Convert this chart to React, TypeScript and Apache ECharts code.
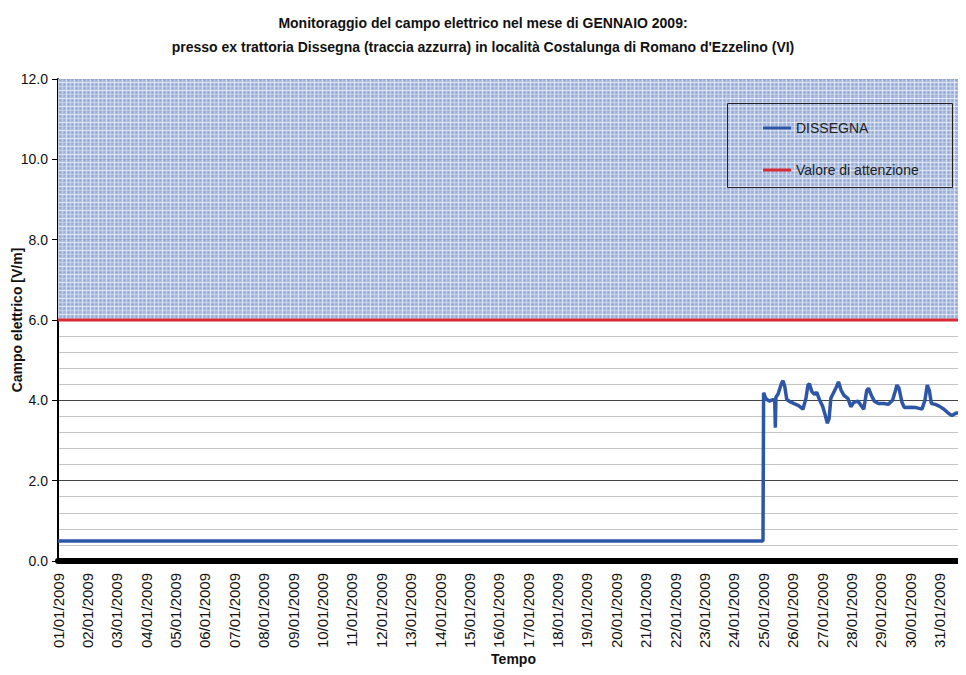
import React, { useEffect, useRef } from "react";
import * as echarts from "echarts";

const TITLE_LINES = [
  "Monitoraggio del campo elettrico nel mese di GENNAIO 2009:",
  "presso ex trattoria Dissegna (traccia azzurra) in località Costalunga di Romano d'Ezzelino (VI)",
];
const Y_NAME = "Campo elettrico [V/m]";
const X_NAME = "Tempo";
const SERIES_NAMES = ["DISSEGNA", "Valore di attenzione"];

const DATE_LABELS = [
  "01/01/2009", "02/01/2009", "03/01/2009", "04/01/2009", "05/01/2009", "06/01/2009",
  "07/01/2009", "08/01/2009", "09/01/2009", "10/01/2009", "11/01/2009", "12/01/2009",
  "13/01/2009", "14/01/2009", "15/01/2009", "16/01/2009", "17/01/2009", "18/01/2009",
  "19/01/2009", "20/01/2009", "21/01/2009", "22/01/2009", "23/01/2009", "24/01/2009",
  "25/01/2009", "26/01/2009", "27/01/2009", "28/01/2009", "29/01/2009", "30/01/2009",
  "31/01/2009",
];

const START = "2009-01-01T00:00";
const END = "2009-02-01T00:00";

const DISSEGNA_TIMES = [
  "2009-01-01T00:00", "2009-01-24T23:45", "2009-01-25T00:15", "2009-01-25T02:00",
  "2009-01-25T04:50", "2009-01-25T08:00", "2009-01-25T09:20", "2009-01-25T09:50",
  "2009-01-25T10:20", "2009-01-25T12:00", "2009-01-25T14:50", "2009-01-25T16:05",
  "2009-01-25T17:30", "2009-01-25T19:10", "2009-01-25T21:35", "2009-01-26T01:10",
  "2009-01-26T04:50", "2009-01-26T08:25", "2009-01-26T10:50", "2009-01-26T12:30",
  "2009-01-26T13:40", "2009-01-26T15:35", "2009-01-26T17:45", "2009-01-26T19:40",
  "2009-01-26T22:05", "2009-01-27T00:30", "2009-01-27T02:25", "2009-01-27T04:20",
  "2009-01-27T05:45", "2009-01-27T07:10", "2009-01-27T09:35", "2009-01-27T12:00",
  "2009-01-27T13:25", "2009-01-27T15:35", "2009-01-27T18:00", "2009-01-27T21:05",
  "2009-01-27T23:30", "2009-01-28T01:55", "2009-01-28T05:15", "2009-01-28T07:40",
  "2009-01-28T10:05", "2009-01-28T12:30", "2009-01-28T13:55", "2009-01-28T16:20",
  "2009-01-28T18:40", "2009-01-28T22:05", "2009-01-29T02:25", "2009-01-29T06:00",
  "2009-01-29T09:35", "2009-01-29T12:00", "2009-01-29T13:10", "2009-01-29T14:50",
  "2009-01-29T17:15", "2009-01-29T19:10", "2009-01-30T00:00", "2009-01-30T04:50",
  "2009-01-30T09:35", "2009-01-30T12:00", "2009-01-30T13:55", "2009-01-30T15:35",
  "2009-01-30T17:15", "2009-01-30T20:25", "2009-01-31T00:00", "2009-01-31T03:35",
  "2009-01-31T07:10", "2009-01-31T10:05", "2009-01-31T13:10", "2009-01-31T16:50",
  "2009-01-31T20:25", "2009-01-31T23:30",
];
const DISSEGNA_VALUES = [
  0.5, 0.5, 4.19, 4.05,
  3.98, 4.02, 4.0, 3.32,
  4.08, 4.15, 4.42, 4.49,
  4.35, 4.02, 3.97, 3.92,
  3.87, 3.78, 4.05, 4.38,
  4.41, 4.22, 4.15, 4.2,
  4.0, 3.85, 3.65, 3.43,
  3.55, 4.05, 4.2, 4.35,
  4.46, 4.25, 4.12, 4.05,
  3.84, 3.95, 3.98, 3.88,
  3.78, 4.25, 4.3, 4.12,
  3.98, 3.92, 3.92, 3.9,
  4.0, 4.25, 4.38, 4.3,
  3.95, 3.82, 3.83, 3.82,
  3.78, 4.0, 4.38, 4.25,
  3.92, 3.9, 3.85, 3.78,
  3.68, 3.62, 3.68, 3.7,
  3.7, 3.72,
];
const ATTENTION_VALUE = 6.0;
const Y_MAX = 12;

const FONT = "'Liberation Sans', Arial, Helvetica, sans-serif";

function toDays(s: string): number {
  return (Date.parse(s) - Date.parse(START)) / 86400000;
}

function makePattern(): string {
  const c = document.createElement("canvas");
  c.width = 8;
  c.height = 8;
  const ctx = c.getContext("2d");
  if (!ctx) return "";
  ctx.fillStyle = "#9bb1de";
  ctx.fillRect(0, 0, 8, 8);
  ctx.fillStyle = "rgba(255,255,255,0.6)";
  ctx.fillRect(2, 0, 1, 8);
  ctx.fillRect(0, 2, 8, 1);
  ctx.fillStyle = "rgba(255,255,255,0.3)";
  ctx.fillRect(6, 0, 1, 8);
  ctx.fillRect(0, 6, 8, 1);
  ctx.fillStyle = "#7d98d2";
  ctx.fillRect(4, 4, 1, 1);
  ctx.fillRect(0, 4, 1, 1);
  ctx.fillRect(4, 0, 1, 1);
  return c.toDataURL();
}

export default function App() {
  const ref = useRef<HTMLDivElement>(null);
  useEffect(() => {
    if (!ref.current) return;
    const chart = echarts.init(ref.current, null, { renderer: "svg" });
    const totalDays = toDays(END);
    const pattern = makePattern();
    const hatch: any = pattern
      ? { image: pattern, repeat: "repeat" }
      : "#a9bde2";
    const dissegnaData = DISSEGNA_TIMES.map((t, i) => [toDays(t), DISSEGNA_VALUES[i]]);
    const attentionData = [
      [0, ATTENTION_VALUE],
      [totalDays, ATTENTION_VALUE],
    ];
    chart.setOption({
      animation: false,
      backgroundColor: "#ffffff",
      textStyle: { fontFamily: FONT },
      title: {
        text: TITLE_LINES.join("\n"),
        left: "center",
        top: 6,
        textStyle: {
          fontFamily: FONT,
          fontSize: 14,
          fontWeight: "bold",
          color: "#111",
          lineHeight: 24,
        },
      },
      grid: { left: 58, right: -3, top: 79, bottom: 114, outerBoundsMode: "none", containLabel: false },
      legend: {
        orient: "vertical",
        left: 758,
        top: 116,
        itemGap: 28,
        itemWidth: 28,
        itemHeight: 3,
        icon: "rect",
        textStyle: { fontFamily: FONT, fontSize: 14, color: "#222" },
        data: SERIES_NAMES,
      },
      graphic: [
        {
          type: "rect",
          left: 725,
          top: 101,
          shape: { width: 225, height: 84 },
          style: { fill: "none", stroke: "#222", lineWidth: 1 },
          z: 100,
        },
      ],
      xAxis: {
        type: "value",
        min: 0,
        max: totalDays,
        interval: 1,
        name: X_NAME,
        nameLocation: "middle",
        nameGap: 89,
        nameMoveOverlap: false,
        nameTextStyle: { fontFamily: FONT, fontSize: 14, fontWeight: "bold", color: "#111" },
        axisLine: { show: true, lineStyle: { color: "#000", width: 6 } },
        axisTick: { show: false },
        splitLine: { show: false },
        axisLabel: {
          rotate: 90,
          margin: 10,
          fontSize: 15,
          color: "#111",
          fontFamily: FONT,
          formatter: (v: number) => DATE_LABELS[Math.round(v)] ?? "",
        },
        offset: 2,
      },
      yAxis: {
        type: "value",
        min: 0,
        max: Y_MAX,
        interval: 2,
        name: Y_NAME,
        nameLocation: "middle",
        nameGap: 34,
        nameMoveOverlap: false,
        nameTextStyle: { fontFamily: FONT, fontSize: 14, fontWeight: "bold", color: "#111" },
        axisLine: { show: true, lineStyle: { color: "#000", width: 2 } },
        axisTick: { show: true, length: 6, lineStyle: { color: "#000", width: 1 } },
        axisLabel: {
          fontSize: 14,
          color: "#111",
          fontFamily: FONT,
          margin: 10,
          formatter: (v: number) => v.toFixed(1),
        },
        splitLine: { show: true, lineStyle: { color: "#444", width: 1 } },
        minorTick: { show: false, splitNumber: 5 },
        minorSplitLine: { show: true, lineStyle: { color: "#c4c4c4", width: 1 } },
      },
      series: [
        {
          name: SERIES_NAMES[0],
          type: "line",
          data: dissegnaData,
          showSymbol: false,
          symbol: "none",
          lineStyle: { color: "#2e56a6", width: 3.5 },
          itemStyle: { color: "#2e56a6" },
          z: 4,
        },
        {
          name: SERIES_NAMES[1],
          type: "line",
          data: attentionData,
          showSymbol: false,
          symbol: "none",
          lineStyle: { color: "#d92b35", width: 3 },
          itemStyle: { color: "#d92b35" },
          z: 5,
          markArea: {
            silent: true,
            itemStyle: { color: hatch, opacity: 0.9 },
            data: [[{ xAxis: 0, yAxis: ATTENTION_VALUE }, { xAxis: totalDays, yAxis: Y_MAX }]],
          },
        },
      ],
    });
    return () => chart.dispose();
  }, []);
  return <div ref={ref} style={{ width: 966, height: 675, margin: -8 }} />;
}
